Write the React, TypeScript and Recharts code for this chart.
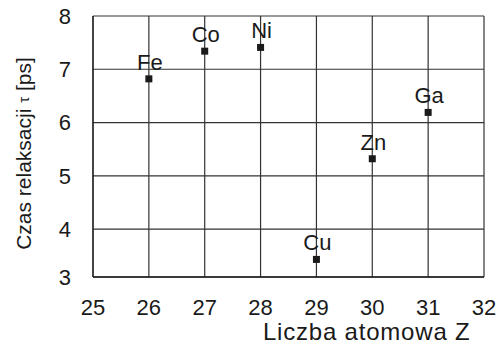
import React from "react";
import { ScatterChart, Scatter, XAxis, YAxis, CartesianGrid, Label } from "recharts";

const elements = ["Fe", "Co", "Ni", "Cu", "Zn", "Ga"];
const atomicNumbers = [26, 27, 28, 29, 30, 31];
const relaxationTimes = [6.82, 7.34, 7.41, 3.43, 5.32, 6.19];
const xTicks = [25, 26, 27, 28, 29, 30, 31, 32];
const yTicks = [3.1, 4, 5, 6, 7, 8];

const data = elements.map((name, i) => ({ name, z: atomicNumbers[i], tau: relaxationTimes[i] }));

const FONT = "'Liberation Sans', Arial, sans-serif";
const INK = "#1a1a1a";

const Marker = (props: any) => {
  const { cx, cy, payload } = props;
  return (
    <g>
      <rect x={cx - 3.5} y={cy - 3.5} width={7} height={7} fill={INK} />
      <text x={cx + 1} y={cy - 9} textAnchor="middle" fontSize={22} fontFamily={FONT} fill={INK}>
        {payload.name}
      </text>
    </g>
  );
};

export default function App() {
  return (
    <div style={{ position: "absolute", left: 0, top: 0 }}>
      <ScatterChart width={497} height={347} margin={{ top: 16, right: 13, bottom: 0, left: 8 }}>
        <CartesianGrid stroke="#333" strokeWidth={1.2} />
        <XAxis
          type="number"
          dataKey="z"
          domain={[25, 32]}
          ticks={xTicks}
          interval={0}
          height={70}
          tickLine={false}
          axisLine={{ stroke: INK, strokeWidth: 1.5 }}
          tickSize={0}
          tickMargin={22}
          tick={{ fontSize: 22, fontFamily: FONT, fill: INK }}
        >
          <Label
            content={(p: any) => {
              const vb = p.viewBox;
              return (
                <text x={vb.x + vb.width * 0.7} y={vb.y + 63} textAnchor="middle" fontSize={24} fontFamily={FONT} fill={INK} letterSpacing={0.8}>
                  Liczba atomowa Z
                </text>
              );
            }}
          />
        </XAxis>
        <YAxis
          type="number"
          dataKey="tau"
          domain={[3.1, 8]}
          ticks={yTicks}
          interval={0}
          width={85}
          tickLine={false}
          axisLine={{ stroke: INK, strokeWidth: 1.2 }}
          tickSize={0}
          tickMargin={22}
          tickFormatter={(v: number) => String(Math.round(v))}
          tick={{ fontSize: 22, fontFamily: FONT, fill: INK }}
        >
          <Label
            content={(p: any) => {
              const vb = p.viewBox;
              const cx = 23;
              const cy = vb.y + vb.height / 2 + 7;
              return (
                <text
                  x={cx}
                  y={cy}
                  textAnchor="middle"
                  dominantBaseline="central"
                  transform={`rotate(-90 ${cx} ${cy})`}
                  fontSize={21}
                  fontFamily={FONT}
                  fill={INK}
                >
                  Czas relaksacji <tspan fontSize={15}>τ</tspan> [ps]
                </text>
              );
            }}
          />
        </YAxis>
        <Scatter data={data} shape={<Marker />} isAnimationActive={false} />
      </ScatterChart>
    </div>
  );
}
